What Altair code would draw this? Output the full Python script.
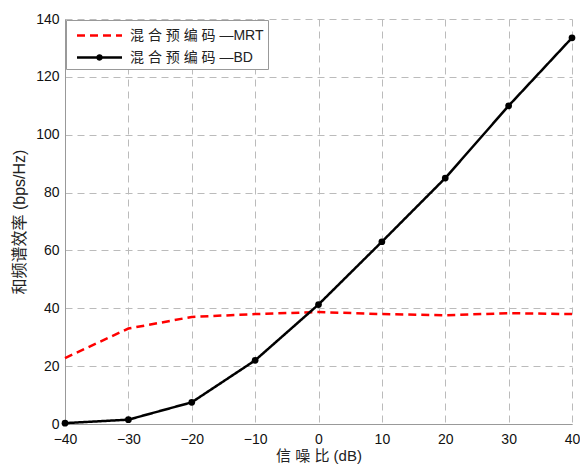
import altair as alt
import pandas as pd

snr = [-40, -30, -20, -10, 0, 10, 20, 30, 40]
mrt = [22.8, 33.0, 37.0, 38.0, 38.7, 38.0, 37.6, 38.3, 38.0]
bd = [0.3, 1.5, 7.5, 22.0, 41.3, 63.0, 85.0, 110.0, 133.5]
lab_mrt = "混 合 预 编 码 —MRT"
lab_bd = "混 合 预 编 码 —BD"
x_ticks = [-40, -30, -20, -10, 0, 10, 20, 30, 40]
y_ticks = [0, 20, 40, 60, 80, 100, 120, 140]

df = pd.DataFrame({
    "snr": snr * 2,
    "val": mrt + bd,
    "series": [lab_mrt] * len(snr) + [lab_bd] * len(snr),
})
df_bd = pd.DataFrame({"snr": snr, "val": bd, "series": [lab_bd] * len(snr)})

FONT = "Liberation Sans, Arial, Noto Sans CJK SC"
domain = [lab_mrt, lab_bd]

xenc = alt.X("snr:Q", scale=alt.Scale(domain=[-40, 40], nice=False),
             axis=alt.Axis(values=x_ticks, title="信 噪 比 (dB)", format="d", labelFlush=False, labelPadding=8))
yenc = alt.Y("val:Q", scale=alt.Scale(domain=[0, 140], nice=False),
             axis=alt.Axis(values=y_ticks, title="和频谱效率 (bps/Hz)", format="d", labelFlush=False, labelPadding=6))

bd_path = "M-2.25,0H2.25M-0.2,0a0.2,0.2 0 1,0 0.4,0a0.2,0.2 0 1,0 -0.4,0"
line_path = "M-2.25,0H2.25"

legend = alt.Legend(
    title=None, orient="none", legendX=1, legendY=1,
    direction="vertical",
    labelFont=FONT, labelFontSize=14, labelColor="#222",
    symbolSize=400, symbolStrokeWidth=2.5, symbolOffset=18,
    strokeColor="#999", fillColor="white", padding=4,
    rowPadding=3, labelOffset=19,
)

color = alt.Color("series:N", scale=alt.Scale(domain=domain, range=["#ff0000", "#000000"]), legend=legend)

lines = alt.Chart(df).mark_line(strokeWidth=2.5).encode(
    x=xenc, y=yenc,
    color=color,
    strokeDash=alt.StrokeDash("series:N", scale=alt.Scale(domain=domain, range=[[8, 5], [1, 0]]), legend=legend),
)

points = alt.Chart(df_bd).mark_circle(size=45, color="black", opacity=1).encode(x="snr:Q", y="val:Q")

legend_layer = alt.Chart(df_bd).transform_filter("false").mark_point(filled=True, opacity=1).encode(
    x="snr:Q", y="val:Q",
    color=color,
    shape=alt.Shape("series:N", scale=alt.Scale(domain=domain, range=[line_path, bd_path]), legend=legend),
)

chart = alt.layer(lines, points, legend_layer).properties(
    width=507, height=405,
    padding={"left": 57, "top": 11, "right": 8, "bottom": 40},
    autosize=alt.AutoSizeParams(type="none"),
).configure_view(stroke=None).configure_axis(
    labelFont=FONT, labelFontSize=14, labelColor="#111",
    titleFont=FONT, titleColor="#222", titleFontWeight="normal",
    grid=True, gridColor="#bbbbbb", gridDash=[7, 5], gridWidth=1,
    domainColor="#999999", ticks=False,
).configure_axisY(titlePadding=8, titleFontSize=16).configure_axisX(titlePadding=2, titleFontSize=15)

chart.save("out.html", embed_options={"renderer": "svg", "actions": False})
